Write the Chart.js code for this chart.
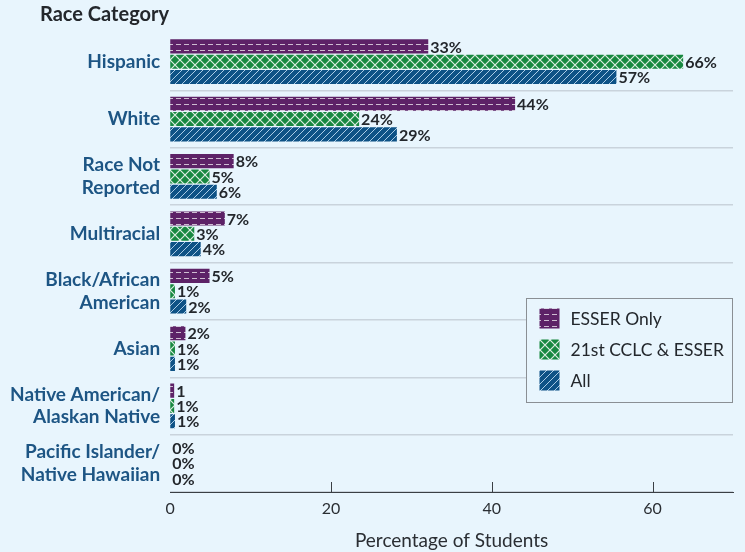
<!DOCTYPE html>
<html>
<head>
<meta charset="utf-8">
<script src="https://cdn.jsdelivr.net/npm/chart.js@4"></script>
<style>
  html, body { margin: 0; padding: 0; background: #e8f5fd; }
  #wrap { width: 745px; height: 552px; }
</style>
</head>
<body>
<div id="wrap"><canvas id="chart" width="745" height="552"></canvas></div>
<script>
const categories = [
    ['Hispanic'], ['White'], ['Race Not', 'Reported'], ['Multiracial'],
    ['Black/African', 'American'], ['Asian'],
    ['Native American/', 'Alaskan Native'], ['Pacific Islander/', 'Native Hawaiian']
];
const seriesNames = ['ESSER Only', '21st CCLC & ESSER', 'All'];
// bar lengths as drawn in the picture
const esserOnly = [32.1, 42.9, 7.9, 6.8, 4.9, 1.9, 0.5, 0];
const cclcEsser = [63.8, 23.5, 4.9, 3.0, 0.6, 0.6, 0.5, 0];
const allStudents = [55.5, 28.2, 5.8, 3.8, 2.0, 0.6, 0.6, 0];
// printed value labels
const esserOnlyLabels = ['33%', '44%', '8%', '7%', '5%', '2%', '1', '0%'];
const cclcEsserLabels = ['66%', '24%', '5%', '3%', '1%', '1%', '1%', '0%'];
const allLabels = ['57%', '29%', '6%', '4%', '2%', '1%', '1%', '0%'];
const xTicks = [0, 20, 40, 60];

function makePattern(kind) {
    const c = document.createElement('canvas');
    const g = c.getContext('2d');
    if (kind === 'dash') {
        c.width = 8; c.height = 6;
        g.fillStyle = '#5d2267'; g.fillRect(0, 0, 8, 6);
        g.fillStyle = 'rgba(255,255,255,0.7)';
        g.fillRect(0, 2, 5, 1);
    } else if (kind === 'cross') {
        c.width = 10; c.height = 10;
        g.fillStyle = '#178840'; g.fillRect(0, 0, 10, 10);
        g.strokeStyle = 'rgba(255,255,255,0.85)'; g.lineWidth = 1.2;
        g.beginPath();
        g.moveTo(0, 0); g.lineTo(10, 10);
        g.moveTo(10, 0); g.lineTo(0, 10);
        g.stroke();
    } else {
        c.width = 7; c.height = 7;
        g.fillStyle = '#0e5286'; g.fillRect(0, 0, 7, 7);
        g.strokeStyle = '#a9cbe6'; g.lineWidth = 1;
        g.beginPath();
        g.moveTo(-1, 8); g.lineTo(8, -1);
        g.stroke();
    }
    return g.createPattern(c, 'repeat');
}

const patterns = [makePattern('dash'), makePattern('cross'), makePattern('diag')];
const valueLabels = [esserOnlyLabels, cclcEsserLabels, allLabels];

const extras = {
    id: 'extras',
    afterDatasetsDraw(chart) {
        const ctx = chart.ctx;
        ctx.save();
        // value labels
        ctx.font = 'bold 16px Lato';
        ctx.fillStyle = '#23272c';
        ctx.textBaseline = 'middle';
        ctx.textAlign = 'left';
        chart.data.datasets.forEach((ds, i) => {
            chart.getDatasetMeta(i).data.forEach((bar, j) => {
                ctx.fillText(valueLabels[i][j], bar.x + 2, bar.y + 1);
            });
        });
        // tick marks pointing up from the axis
        const xs = chart.scales.x;
        ctx.strokeStyle = '#3a3f44';
        ctx.lineWidth = 1;
        xTicks.forEach(v => {
            if (v === 0) return;
            const px = Math.round(xs.getPixelForValue(v)) + 0.5;
            ctx.beginPath();
            ctx.moveTo(px, xs.top - 10);
            ctx.lineTo(px, xs.top);
            ctx.stroke();
        });
        // title
        ctx.font = 'bold 20px Lato';
        ctx.fillStyle = '#23272c';
        ctx.textBaseline = 'middle';
        ctx.fillText('Race Category', 40, 15);
        // legend box
        const bx = 526.5, by = 298.5, bw = 206, bh = 104;
        ctx.fillStyle = '#e8f5fd';
        ctx.fillRect(bx, by, bw, bh);
        ctx.strokeStyle = '#8a8f94';
        ctx.strokeRect(bx, by, bw, bh);
        ctx.font = '17.5px Lato';
        chart.data.datasets.forEach((ds, i) => {
            const cy = by + 20 + i * 31;
            ctx.fillStyle = ds.backgroundColor;
            ctx.fillRect(bx + 13, cy - 10, 20, 20);
            ctx.fillStyle = '#23272c';
            ctx.fillText(ds.label, bx + 44, cy + 1);
        });
        ctx.restore();
    }
};

new Chart(document.getElementById('chart'), {
    type: 'bar',
    data: {
        labels: categories,
        datasets: [
            { label: seriesNames[0], data: esserOnly, backgroundColor: patterns[0] },
            { label: seriesNames[1], data: cclcEsser, backgroundColor: patterns[1] },
            { label: seriesNames[2], data: allStudents, backgroundColor: patterns[2] }
        ]
    },
    options: {
        indexAxis: 'y',
        responsive: false,
        animation: false,
        layout: { padding: { top: 33, right: 12, bottom: 0, left: 0 } },
        datasets: { bar: { categoryPercentage: 0.8, barPercentage: 0.92 } },
        scales: {
            x: {
                min: 0,
                max: 70,
                afterBuildTicks: axis => { axis.ticks = xTicks.map(v => ({ value: v })); },
                afterFit: axis => { axis.height = 60; },
                grid: { display: false, drawTicks: false },
                border: { display: true, color: '#3a3f44', width: 1 },
                ticks: { color: '#2a2e33', font: { family: 'Lato', size: 16 }, padding: 7 },
                title: {
                    display: true, text: 'Percentage of Students', color: '#2a2e33',
                    font: { family: 'Lato', size: 19 }, padding: { top: 5, bottom: 0 }
                }
            },
            y: {
                grid: {
                    offset: true,
                    drawTicks: false,
                    color: ctx => ctx.index === 0 ? 'rgba(0,0,0,0)' : '#c9d3dc',
                    lineWidth: 1.5
                },
                border: { display: false },
                ticks: {
                    color: '#1d5584',
                    font: { family: 'Lato', size: 19, weight: 'bold', lineHeight: 1.2 },
                    padding: 10
                }
            }
        },
        plugins: {
            legend: { display: false },
            tooltip: { enabled: false }
        }
    },
    plugins: [extras]
});
</script>
</body>
</html>
